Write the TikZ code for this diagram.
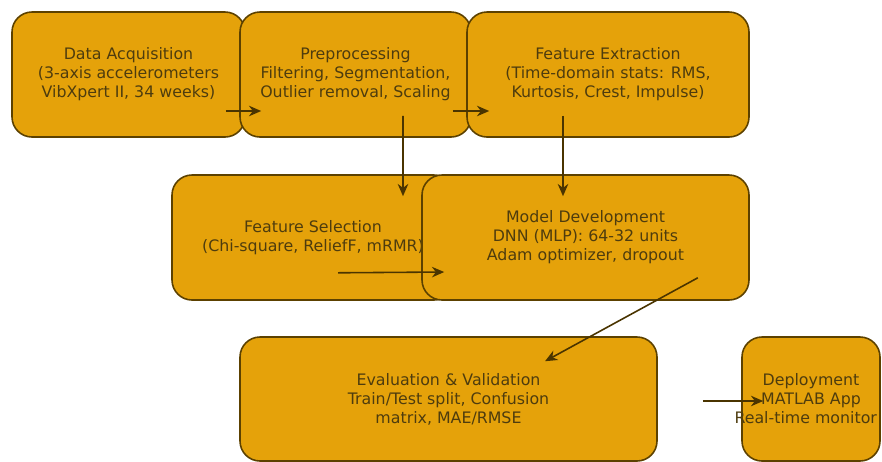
\documentclass[tikz,border=0pt]{standalone}
\usepackage{fontspec}
\setmainfont{DejaVu Sans}
\usepackage{tikz}
\usetikzlibrary{calc,arrows.meta}
\definecolor{boxfill}{HTML}{E5A20A}
\definecolor{boxedge}{HTML}{5C4100}
\definecolor{boxtext}{HTML}{4E3C0E}
\tikzset{>={Stealth[length=7pt,width=6pt]}}
\tikzset{
  stage/.style={draw=boxedge, fill=boxfill, line width=0.9pt, rounded corners=0.4cm,
    align=center, text=boxtext, inner sep=0pt, minimum height=125*0.02cm,
    font=\fontsize{9}{10.8}\selectfont},
  flow/.style={->, draw=boxedge!80!black, line width=0.9pt}
}

\begin{document}
\begin{tikzpicture}[x=0.02cm,y=-0.02cm]
          \useasboundingbox (0,0) rectangle (882,461);
          \clip (0,0) rectangle (882,461);
          % top row
          \node[stage, minimum width=233*0.02cm] (acq) at (128.5,74.5) {Data Acquisition\\(3-axis accelerometers\\VibXpert II, 34 weeks)};
          \node[stage, minimum width=231*0.02cm] (pre) at (355.5,74.5) {Preprocessing\\Filtering, Segmentation,\\Outlier removal, Scaling};
          \node[stage, minimum width=282*0.02cm] (ext) at (608,74.5) {Feature Extraction\\(Time-domain stats: RMS,\\Kurtosis, Crest, Impulse)};
          % middle row
          \node[stage, minimum width=282*0.02cm] (sel) at (313,237.5) {Feature Selection\\(Chi-square, ReliefF, mRMR)};
          \node[stage, minimum width=327*0.02cm] (dev) at (585.5,237.5) {Model Development\\DNN (MLP): 64-32 units\\Adam optimizer, dropout};
          % bottom row
          \node[stage, minimum width=417*0.02cm, minimum height=124*0.02cm] (eval) at (448.5,399) {Evaluation \& Validation\\Train/Test split, Confusion\\matrix, MAE/RMSE};
          \node[stage, minimum width=138*0.02cm, minimum height=124*0.02cm] (dep) at (811,399) {Deployment\\MATLAB App\\\hspace*{-6pt}Real-time monitor};
          \begin{scope}[flow]
            \draw ($(acq.east) +(-20,36.5)$) -- ($(pre.west) +(22,36.5)$);
            \draw ($(pre.east) +(-19,36.5)$) -- ($(ext.west) +(23,36.5)$);
            \draw ($(pre.south) +(47.5,-22)$) -- ($(sel.north) +(90,22)$);
            \draw ($(ext.south) +(-45,-22)$) -- ($(dev.north) +(-22.5,22)$);
            \draw ($(sel.south) +(25,-28)$) -- ($(dev.west) +(23,34.5)$);
            \draw ($(dev.south east) +(-52,-23)$) -- ($(eval.north) +(96.5,25)$);
            \draw ($(eval.east) +(45,2)$) -- ($(dep.west) +(22,2)$);
          \end{scope}
        \end{tikzpicture}
\end{document}
